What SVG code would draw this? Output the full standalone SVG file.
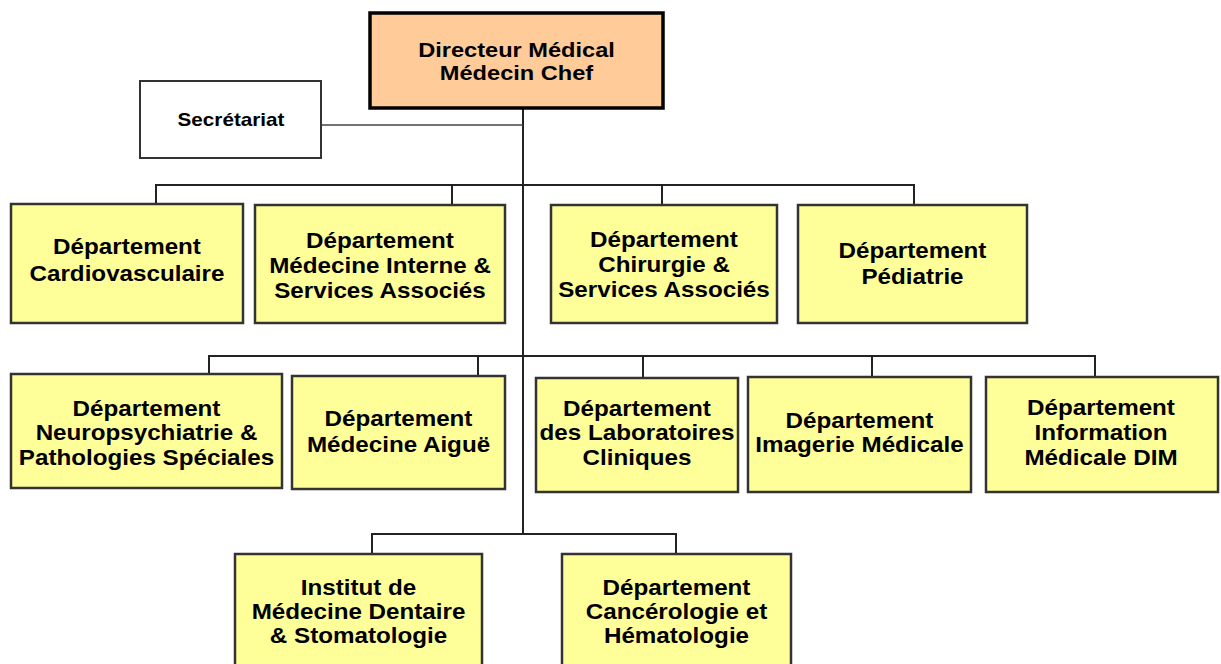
<svg xmlns="http://www.w3.org/2000/svg" width="1221" height="664" viewBox="0 0 1221 664">
<style>
  .box { fill: #FFFF99; stroke: #333333; stroke-width: 2.5; }
  .dir { fill: #FFCC99; stroke: #000000; stroke-width: 3.5; }
  .sec { fill: #FFFFFF; stroke: #333333; stroke-width: 2; }
  .t { font-family: "Liberation Sans", Arial, sans-serif; font-weight: bold; font-size: 22px; fill: #000000; text-anchor: middle; }
  .td { font-size: 20px; }
  .ts { font-size: 18px; }
  .conn { fill: none; stroke: #222222; stroke-width: 2; }
  .thin { fill: none; stroke: #444444; stroke-width: 1.5; }
</style>
<rect x="0" y="0" width="1221" height="664" fill="#FFFFFF"/>

<g id="connectors">
  <line class="conn" x1="523" y1="108" x2="523" y2="534"/>
  <line class="thin" x1="321" y1="125" x2="523" y2="125"/>
  <polyline class="conn" points="156,204 156,185 914,185 914,204"/>
  <line class="conn" x1="452" y1="185" x2="452" y2="204"/>
  <line class="conn" x1="662" y1="185" x2="662" y2="204"/>
  <polyline class="conn" points="209,374 209,356 1095,356 1095,377"/>
  <line class="conn" x1="478" y1="356" x2="478" y2="376"/>
  <line class="conn" x1="643" y1="356" x2="643" y2="378"/>
  <line class="conn" x1="872" y1="356" x2="872" y2="377"/>
  <polyline class="conn" points="372,554 372,534 676,534 676,554"/>
</g>

<g id="directeur">
  <rect class="dir" x="370" y="13" width="293" height="95"/>
  <text class="t td" transform="translate(516.5,0) scale(1.18,1)"><tspan x="0" y="57">Directeur Médical</tspan><tspan x="0" y="80">Médecin Chef</tspan></text>
</g>

<g id="secretariat">
  <rect class="sec" x="140" y="81" width="181" height="77"/>
  <text class="t ts" transform="translate(231,0) scale(1.15,1)"><tspan x="0" y="126.5">Secrétariat</tspan></text>
</g>

<g id="cardio">
  <rect class="box" x="11" y="204" width="232" height="119"/>
  <text class="t" transform="translate(127,0) scale(1.1,1)"><tspan x="0" y="254">Département</tspan><tspan x="0" y="281">Cardiovasculaire</tspan></text>
</g>

<g id="medecine-interne">
  <rect class="box" x="255" y="205" width="250" height="118"/>
  <text class="t" transform="translate(380,0) scale(1.1,1)"><tspan x="0" y="248">Département</tspan><tspan x="0" y="273">Médecine Interne &amp;</tspan><tspan x="0" y="298">Services Associés</tspan></text>
</g>

<g id="chirurgie">
  <rect class="box" x="551" y="205" width="226" height="118"/>
  <text class="t" transform="translate(664,0) scale(1.1,1)"><tspan x="0" y="247">Département</tspan><tspan x="0" y="272">Chirurgie &amp;</tspan><tspan x="0" y="297">Services Associés</tspan></text>
</g>

<g id="pediatrie">
  <rect class="box" x="798" y="205" width="229" height="118"/>
  <text class="t" transform="translate(912.5,0) scale(1.1,1)"><tspan x="0" y="258">Département</tspan><tspan x="0" y="284">Pédiatrie</tspan></text>
</g>

<g id="neuro">
  <rect class="box" x="11" y="374" width="271" height="114"/>
  <text class="t" transform="translate(146.5,0) scale(1.1,1)"><tspan x="0" y="416">Département</tspan><tspan x="0" y="440">Neuropsychiatrie &amp;</tspan><tspan x="0" y="465">Pathologies Spéciales</tspan></text>
</g>

<g id="medecine-aigue">
  <rect class="box" x="292" y="376" width="213" height="113"/>
  <text class="t" transform="translate(398.5,0) scale(1.1,1)"><tspan x="0" y="426">Département</tspan><tspan x="0" y="452">Médecine Aiguë</tspan></text>
</g>

<g id="laboratoires">
  <rect class="box" x="536" y="378" width="202" height="114"/>
  <text class="t" transform="translate(637,0) scale(1.1,1)"><tspan x="0" y="416">Département</tspan><tspan x="0" y="440">des Laboratoires</tspan><tspan x="0" y="465">Cliniques</tspan></text>
</g>

<g id="imagerie">
  <rect class="box" x="748" y="377" width="223" height="115"/>
  <text class="t" transform="translate(859.5,0) scale(1.1,1)"><tspan x="0" y="428">Département</tspan><tspan x="0" y="452">Imagerie Médicale</tspan></text>
</g>

<g id="dim">
  <rect class="box" x="986" y="377" width="232" height="115"/>
  <text class="t" transform="translate(1101,0) scale(1.1,1)"><tspan x="0" y="415">Département</tspan><tspan x="0" y="440">Information</tspan><tspan x="0" y="465">Médicale DIM</tspan></text>
</g>

<g id="institut-dentaire">
  <rect class="box" x="235" y="554" width="247" height="130"/>
  <text class="t" transform="translate(358.5,0) scale(1.1,1)"><tspan x="0" y="595">Institut de</tspan><tspan x="0" y="619">Médecine Dentaire</tspan><tspan x="0" y="643">&amp; Stomatologie</tspan></text>
</g>

<g id="cancerologie">
  <rect class="box" x="562" y="554" width="229" height="130"/>
  <text class="t" transform="translate(676.5,0) scale(1.1,1)"><tspan x="0" y="595">Département</tspan><tspan x="0" y="619">Cancérologie et</tspan><tspan x="0" y="643">Hématologie</tspan></text>
</g>
</svg>
